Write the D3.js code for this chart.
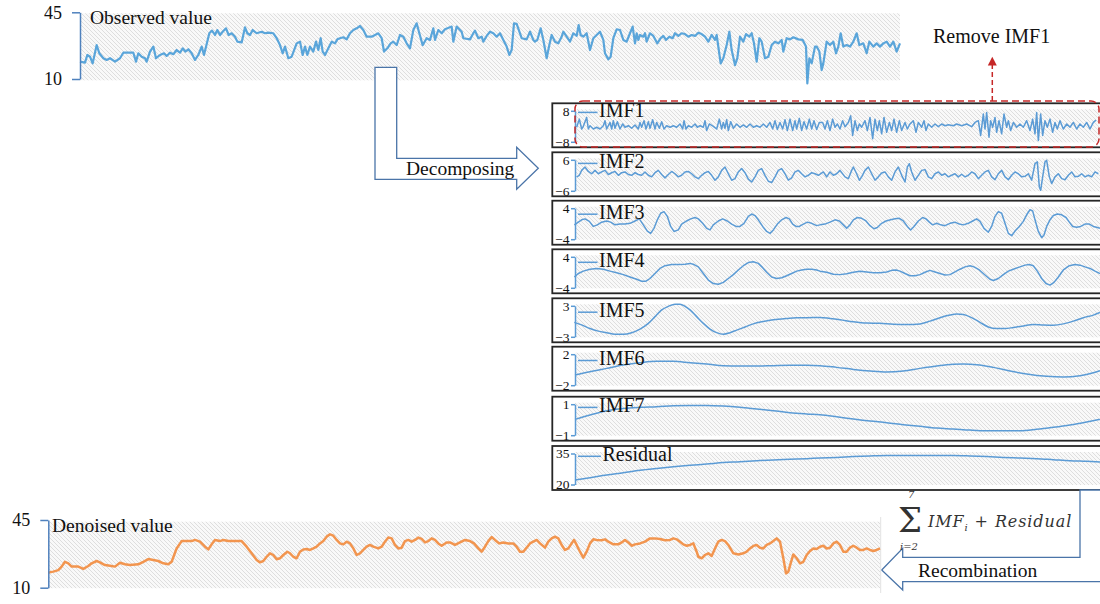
<!DOCTYPE html>
<html><head><meta charset="utf-8">
<script src="https://cdn.jsdelivr.net/npm/d3@7"></script>
<style>body{margin:0;background:#fff} svg{display:block}</style>
</head><body>
<svg id="c" width="1100" height="604"></svg>
<script>
// ---- data: [sample time, value] ----
const observed = [[240,19.1],[255,18.6],[262,22.6],[270,21.7],[278,18.2],[290,27.8],[298,23.5],[310,20.9],[320,20.0],[330,20.9],[345,19.1],[360,20.9],[370,23.8],[385,23.8],[400,23.8],[408,19.1],[415,23.5],[425,21.7],[435,20.9],[440,19.1],[450,24.4],[460,27.0],[468,20.9],[480,22.6],[492,23.5],[500,22.1],[510,23.8],[520,23.0],[530,25.2],[540,23.8],[548,26.1],[556,24.4],[565,25.6],[575,23.5],[585,20.0],[595,22.6],[605,27.0],[612,22.6],[628,34.0],[636,35.4],[645,33.1],[652,35.7],[660,33.1],[668,34.8],[678,36.6],[686,33.1],[695,34.0],[705,32.2],[712,29.6],[725,29.2],[735,37.1],[742,34.0],[750,33.1],[758,35.7],[770,34.0],[785,34.8],[795,34.0],[805,34.3],[820,34.0],[830,31.4],[840,27.8],[848,23.5],[855,27.0],[865,20.9],[875,21.7],[890,28.7],[900,29.6],[908,22.6],[915,27.0],[922,22.6],[930,27.0],[940,24.4],[948,29.6],[955,25.2],[962,31.4],[968,24.4],[975,22.6],[985,26.1],[995,29.6],[1005,28.7],[1012,30.8],[1020,31.4],[1030,31.9],[1040,30.8],[1050,34.0],[1060,35.7],[1070,36.6],[1080,37.8],[1090,35.7],[1100,32.2],[1115,32.2],[1125,33.1],[1135,34.0],[1145,31.4],[1152,24.4],[1162,26.1],[1172,28.7],[1180,29.6],[1190,27.8],[1200,33.1],[1210,32.2],[1220,28.7],[1230,26.1],[1240,35.7],[1250,39.2],[1258,34.0],[1268,27.8],[1280,31.4],[1290,30.5],[1300,36.6],[1305,30.5],[1315,35.7],[1325,34.0],[1335,36.1],[1355,37.5],[1360,29.6],[1370,37.5],[1385,34.8],[1390,31.4],[1410,30.8],[1420,34.0],[1425,35.4],[1435,31.4],[1445,32.2],[1450,29.6],[1460,32.6],[1470,34.8],[1480,34.0],[1490,32.2],[1500,34.0],[1510,30.5],[1520,27.0],[1528,22.6],[1535,25.2],[1542,39.2],[1550,38.9],[1560,34.0],[1565,31.4],[1580,30.8],[1590,34.8],[1600,30.5],[1605,29.6],[1612,30.5],[1622,36.6],[1630,30.5],[1640,20.9],[1648,27.8],[1655,33.1],[1665,29.6],[1675,28.7],[1685,32.2],[1690,34.8],[1700,32.2],[1710,29.6],[1720,34.0],[1730,32.6],[1736,38.3],[1742,33.1],[1750,32.2],[1760,34.0],[1770,25.2],[1780,31.4],[1790,33.1],[1800,34.8],[1810,30.5],[1815,23.5],[1825,20.3],[1832,21.7],[1840,31.4],[1850,36.1],[1860,35.7],[1870,30.5],[1880,29.6],[1890,34.0],[1898,37.5],[1905,28.7],[1910,34.0],[1915,30.5],[1920,33.1],[1930,32.2],[1935,34.0],[1940,29.6],[1950,34.0],[1960,32.6],[1972,28.7],[1982,31.4],[1990,32.6],[1998,30.5],[2008,32.2],[2018,31.4],[2025,34.0],[2035,32.6],[2045,34.0],[2055,33.6],[2065,32.2],[2075,33.1],[2085,32.6],[2095,34.3],[2105,33.6],[2115,32.2],[2125,29.6],[2135,33.1],[2145,30.5],[2150,33.1],[2162,18.2],[2170,20.9],[2180,27.8],[2188,34.8],[2195,25.2],[2205,17.3],[2212,20.9],[2220,32.2],[2230,29.6],[2238,33.6],[2248,32.2],[2255,34.0],[2262,28.7],[2270,19.1],[2278,31.4],[2285,29.6],[2295,20.9],[2305,21.7],[2315,27.8],[2325,29.6],[2335,28.7],[2345,30.5],[2350,24.4],[2360,31.4],[2370,30.8],[2380,31.9],[2395,30.8],[2408,30.5],[2418,27.0],[2422,7.7],[2428,20.9],[2435,18.2],[2445,27.0],[2450,27.0],[2458,24.4],[2465,14.7],[2470,18.2],[2480,29.6],[2490,27.8],[2500,29.6],[2508,23.5],[2515,27.0],[2522,34.0],[2530,27.0],[2540,27.8],[2550,27.0],[2560,29.6],[2570,34.0],[2578,27.8],[2590,28.7],[2600,23.5],[2608,29.6],[2620,27.0],[2630,28.7],[2640,27.0],[2650,28.7],[2660,29.6],[2670,27.0],[2680,29.6],[2690,24.4],[2700,28.7]];

const denoised = [[145,17.8],[160,18.3],[175,19.1],[185,20.9],[195,23.4],[205,22.6],[215,20.9],[235,20.9],[250,19.7],[265,21.2],[275,22.6],[290,23.8],[300,23.1],[315,21.7],[330,21.4],[345,20.9],[360,22.9],[375,22.1],[390,21.7],[415,22.1],[430,23.4],[445,24.8],[460,24.3],[475,23.8],[490,22.6],[505,22.1],[515,23.4],[530,30.3],[545,34.1],[560,34.1],[575,34.1],[585,34.7],[600,33.8],[615,31.2],[625,29.8],[635,32.4],[645,34.7],[660,34.1],[670,34.7],[685,34.1],[700,34.1],[725,34.1],[740,31.2],[755,27.8],[770,24.3],[780,23.1],[790,23.8],[800,26.0],[810,27.8],[820,26.9],[830,24.7],[840,25.2],[850,26.9],[862,28.6],[870,27.8],[880,26.0],[890,25.2],[900,28.6],[910,29.8],[920,30.0],[930,29.5],[940,30.3],[950,31.2],[960,32.9],[970,34.1],[980,36.4],[990,37.6],[1000,36.9],[1010,34.7],[1020,32.9],[1030,32.4],[1040,33.8],[1050,32.9],[1060,30.3],[1070,26.9],[1080,27.8],[1090,29.5],[1100,31.2],[1110,32.1],[1120,31.2],[1135,30.3],[1145,31.2],[1155,33.8],[1165,36.0],[1175,35.5],[1185,32.1],[1195,30.3],[1205,30.7],[1215,34.1],[1225,34.7],[1235,33.8],[1245,34.7],[1255,35.9],[1265,35.2],[1275,33.4],[1285,34.1],[1295,35.5],[1305,34.7],[1315,32.9],[1325,31.7],[1340,33.4],[1350,33.4],[1365,32.1],[1380,33.4],[1395,34.7],[1410,34.1],[1422,32.9],[1435,30.3],[1445,28.6],[1455,31.2],[1465,34.1],[1475,36.2],[1485,34.7],[1498,32.9],[1510,33.4],[1525,32.9],[1540,32.9],[1550,31.2],[1560,28.6],[1570,28.6],[1580,30.7],[1590,32.9],[1600,33.8],[1610,34.7],[1620,32.9],[1635,30.7],[1645,33.8],[1655,35.5],[1665,36.4],[1675,35.5],[1685,32.1],[1695,29.5],[1705,30.3],[1715,32.9],[1722,34.7],[1730,32.1],[1740,28.6],[1750,25.5],[1760,28.6],[1770,32.9],[1780,35.0],[1790,34.7],[1805,34.5],[1815,35.0],[1825,33.8],[1840,32.4],[1855,32.4],[1865,33.4],[1875,34.7],[1885,33.4],[1895,31.7],[1905,32.4],[1920,32.9],[1935,33.8],[1950,35.5],[1965,35.5],[1980,35.2],[1995,34.5],[2010,34.7],[2020,35.5],[2030,35.0],[2040,33.8],[2050,32.4],[2060,31.7],[2070,32.1],[2080,32.9],[2090,28.6],[2095,26.0],[2105,25.2],[2115,26.9],[2125,27.8],[2135,26.4],[2145,30.3],[2155,33.8],[2165,34.7],[2175,34.1],[2185,32.1],[2200,27.8],[2215,27.2],[2230,27.8],[2240,28.6],[2250,30.3],[2260,31.6],[2270,32.1],[2280,30.7],[2290,30.3],[2300,32.1],[2310,32.9],[2320,34.1],[2330,35.5],[2340,33.8],[2350,25.2],[2358,17.4],[2365,18.3],[2372,22.6],[2380,27.2],[2390,25.2],[2400,22.6],[2410,23.4],[2420,26.9],[2430,29.0],[2440,30.3],[2450,30.0],[2460,31.2],[2470,31.7],[2480,30.3],[2490,30.7],[2500,32.9],[2510,33.8],[2520,32.1],[2530,28.6],[2540,28.6],[2550,30.7],[2560,31.7],[2570,30.7],[2580,29.5],[2590,29.5],[2600,30.3],[2610,29.5],[2620,29.0],[2630,29.5],[2640,30.3]];

const imf1 = [[110,-0.5],[118,3.7],[125,-1.4],[130,0],[140,4.6],[145,-1.4],[150,0.3],[160,-1.4],[170,-0.5],[180,-1.4],[190,0.3],[195,2.9],[200,-1.4],[210,2.0],[215,-1.4],[220,2.9],[225,-1.0],[232,2.4],[240,-1.4],[248,1.2],[255,-0.5],[265,0.3],[275,-1.0],[285,0.7],[295,-1.4],[300,2.0],[305,-0.5],[312,2.9],[318,-1.4],[325,2.4],[330,-1.0],[338,3.4],[345,-1.4],[350,2.0],[358,-1.0],[365,2.4],[372,-1.4],[380,0.3],[390,-0.5],[400,0.3],[410,-0.5],[420,1.2],[428,-1.4],[432,2.9],[438,-1.4],[445,0.3],[455,-0.5],[465,1.2],[472,-0.5],[480,0.3],[490,-0.5],[495,2.9],[500,-2.2],[508,1.2],[520,0],[530,-1.4],[538,3.7],[545,-1.4],[550,2.0],[555,-1.0],[560,3.4],[565,-2.2],[572,2.4],[580,-1.0],[590,1.2],[600,-0.5],[610,0.7],[620,-0.5],[630,1.2],[640,-0.5],[650,0.3],[660,-0.5],[670,1.2],[680,-0.5],[690,2.0],[698,-1.4],[705,2.9],[712,-1.7],[720,2.0],[728,-1.4],[735,3.4],[742,-2.2],[750,3.7],[758,-2.2],[765,2.9],[770,-1.4],[778,4.1],[785,-2.2],[792,2.4],[800,-1.4],[808,3.7],[815,-1.4],[822,2.9],[830,-1.7],[838,2.0],[848,2.0],[855,-1.4],[862,2.9],[870,-2.2],[878,3.7],[885,-0.5],[892,1.2],[900,-1.4],[908,2.9],[915,-0.2],[925,2.0],[932,5.4],[938,-4.7],[945,2.9],[952,-2.2],[958,1.2],[965,-0.5],[975,2.9],[982,-2.2],[990,4.6],[998,-6.4],[1005,3.7],[1012,-2.2],[1018,2.9],[1025,-3.9],[1032,4.6],[1040,-3.1],[1048,2.0],[1055,-2.2],[1062,3.7],[1070,-3.1],[1078,2.9],[1085,-2.2],[1095,2.0],[1102,-1.4],[1110,1.2],[1120,2.9],[1128,-3.1],[1135,2.0],[1145,-0.5],[1152,2.9],[1158,-2.2],[1165,1.2],[1175,-0.5],[1185,1.2],[1195,-0.2],[1205,1.2],[1215,0.3],[1225,0.8],[1240,0.3],[1250,1.2],[1265,0.3],[1280,1.2],[1295,-0.2],[1305,2.0],[1315,2.9],[1322,-4.7],[1330,6.3],[1335,-1.4],[1340,7.1],[1347,-5.6],[1352,2.9],[1358,-0.5],[1365,4.6],[1370,-3.1],[1377,2.9],[1385,-3.9],[1392,6.3],[1400,-0.5],[1405,2.9],[1412,-2.2],[1420,2.0],[1430,-0.5],[1440,1.2],[1450,-0.5],[1460,2.9],[1470,-2.2],[1478,3.7],[1485,-3.9],[1490,7.1],[1495,-7.3],[1502,6.3],[1508,-4.7],[1515,2.9],[1522,-0.5],[1530,3.7],[1538,-3.1],[1545,2.0],[1552,-1.4],[1560,2.9],[1570,-1.4],[1580,1.2],[1590,-0.5],[1600,2.0],[1610,-1.4],[1620,1.2],[1630,-0.5],[1640,2.0],[1650,-1.4],[1660,2.0],[1668,3.2]];

const imf2 = [[110,-0.6],[118,0],[125,1.9],[135,3.2],[145,1.5],[155,0.6],[165,1.9],[175,0.6],[185,1.3],[195,1.9],[205,0.3],[215,1.0],[225,1.5],[235,0],[245,1.0],[255,1.3],[265,0.3],[275,0],[285,1.0],[295,0.3],[305,0],[315,1.3],[325,0],[335,-0.6],[345,1.0],[355,1.9],[365,0.3],[375,-1.0],[385,0.3],[395,1.5],[405,0.6],[415,-0.6],[425,0],[435,1.3],[445,1.5],[455,0.6],[465,-0.6],[475,-1.3],[485,0],[495,1.0],[505,1.5],[515,0],[525,-1.9],[535,-0.6],[545,1.9],[555,3.2],[565,0.6],[575,-1.9],[585,-1.3],[595,1.3],[605,2.6],[615,1.0],[625,-1.5],[635,-2.6],[645,-0.6],[655,1.9],[665,2.6],[675,0],[685,-2.3],[695,-2.8],[705,-0.6],[715,1.9],[725,2.6],[735,0.6],[745,-1.9],[755,-1.0],[765,1.3],[775,1.9],[785,0.6],[795,-0.6],[805,0],[815,1.0],[825,0.6],[835,0],[850,1.3],[860,-0.6],[870,1.3],[880,0],[890,0.6],[900,1.9],[915,-0.6],[925,-1.3],[935,1.9],[940,3.2],[950,0.6],[958,-1.9],[965,-0.6],[975,1.9],[985,3.2],[995,0.6],[1005,-1.9],[1015,-0.6],[1025,0.9],[1035,1.3],[1045,-0.6],[1055,-1.9],[1065,1.3],[1075,3.2],[1085,0],[1095,-2.6],[1102,3.2],[1108,4.5],[1115,1.3],[1125,-1.9],[1135,0],[1145,1.9],[1155,2.2],[1165,-0.6],[1175,-1.3],[1185,0.6],[1195,1.3],[1205,0],[1215,0.6],[1225,-0.6],[1235,0],[1245,0.6],[1255,-0.6],[1265,0.4],[1275,-0.6],[1285,0],[1295,1.3],[1305,0.6],[1315,-1.3],[1325,0],[1335,1.3],[1345,1.9],[1355,-0.6],[1365,-1.7],[1375,0.6],[1385,1.9],[1395,-0.6],[1405,-1.7],[1415,0],[1425,1.3],[1435,0.6],[1445,-0.6],[1455,-0.4],[1465,0.6],[1475,-1.9],[1485,4.5],[1492,5.2],[1498,-4.5],[1502,-5.8],[1508,-0.6],[1515,5.2],[1520,5.8],[1528,-0.6],[1535,-3.2],[1545,-0.6],[1555,0.6],[1565,-1.3],[1575,-1.7],[1585,0],[1595,1.3],[1605,-0.6],[1615,-0.4],[1625,0.6],[1635,-0.6],[1645,0],[1655,-0.6],[1665,1.3],[1675,0.6]];

const imf3 = [[103,-0.3],[115,0.4],[125,1.0],[135,1.25],[148,0.6],[160,-0.7],[172,-0.3],[185,0.4],[200,0.7],[212,0.4],[225,-0.3],[240,-0.1],[255,-0.1],[270,0.1],[285,0.7],[298,1.25],[310,-0.3],[322,-1.9],[332,-2.5],[342,-1.2],[352,1.0],[362,2.7],[372,3.1],[382,1.9],[392,-0.7],[402,-2.0],[415,-1.6],[425,-0.1],[440,0.7],[452,1.25],[465,1.6],[475,1.25],[488,0.1],[500,-1.2],[510,-1.6],[520,-0.3],[535,0.7],[548,1.25],[562,0.7],[575,-0.1],[588,-0.7],[600,-0.7],[612,0.1],[625,1.9],[635,2.5],[645,2.1],[655,1.0],[668,-0.7],[680,-2.0],[690,-2.5],[700,-1.6],[712,-0.1],[725,1.0],[738,1.6],[748,1.25],[758,-0.1],[768,-0.7],[778,-0.7],[790,-0.1],[802,0.4],[815,0.1],[830,-0.5],[840,-0.3],[855,-0.1],[870,0.4],[885,1.0],[898,0.7],[910,-0.3],[920,-1.2],[930,-0.3],[940,1.0],[952,1.6],[965,1.4],[978,0.7],[990,-0.5],[1002,-1.3],[1012,-1.0],[1025,0.1],[1038,0.7],[1052,1.0],[1065,1.25],[1078,1.4],[1090,0.7],[1102,-0.7],[1112,-1.6],[1122,-0.7],[1135,0.7],[1148,1.6],[1158,1.25],[1168,0.4],[1178,-0.3],[1190,0.1],[1202,-0.3],[1215,-0.5],[1230,0.1],[1245,0.4],[1258,-0.1],[1270,-0.3],[1285,0.1],[1298,0.7],[1310,1.25],[1320,0.6],[1332,-1.2],[1345,-2.2],[1355,-0.7],[1365,1.9],[1375,3.1],[1385,2.7],[1395,0.1],[1405,-2.5],[1415,-3.1],[1425,-1.9],[1438,-0.7],[1450,0.6],[1460,2.3],[1470,3.6],[1478,3.3],[1485,1.0],[1495,-2.0],[1505,-3.6],[1512,-2.9],[1520,-0.7],[1530,1.0],[1540,2.1],[1552,2.5],[1565,2.3],[1578,1.6],[1588,0.4],[1598,-0.7],[1610,-0.9],[1622,-0.7],[1635,-0.1],[1648,-0.1],[1660,-0.7],[1672,-1.0],[1680,-1.2]];

const imf4 = [[103,-1.2],[115,-0.3],[130,0.3],[150,0.8],[170,1.0],[190,0.8],[210,0.3],[230,-0.1],[250,-0.6],[270,-1.2],[290,-1.8],[305,-2.3],[318,-2.3],[330,-1.6],[345,-0.3],[360,1.0],[375,1.7],[395,2.0],[415,2.0],[435,2.1],[450,2.3],[462,2.0],[475,1.4],[490,-0.3],[505,-2.0],[520,-2.9],[535,-3.1],[550,-2.6],[565,-1.6],[580,-0.6],[595,0.6],[610,1.7],[625,2.5],[640,2.7],[655,2.3],[668,1.2],[680,0],[695,-1.2],[710,-1.6],[725,-1.4],[740,-0.9],[755,-0.3],[770,0.3],[785,0.6],[800,0.8],[815,0.8],[830,0.6],[840,0.3],[860,0],[880,-0.5],[900,-0.6],[920,-0.4],[940,0],[960,0.3],[980,0.1],[1000,-0.1],[1020,-0.1],[1040,0.1],[1055,0.5],[1068,0.6],[1080,0.3],[1095,-0.3],[1110,-0.9],[1125,-0.9],[1140,-0.6],[1155,0],[1170,0.5],[1185,0.1],[1200,-0.3],[1215,-0.7],[1230,-0.6],[1245,0.1],[1260,0.8],[1275,1.4],[1290,1.7],[1302,1.4],[1318,0.6],[1335,-0.7],[1350,-1.8],[1360,-2.1],[1375,-1.6],[1390,-0.6],[1405,0.3],[1420,0.8],[1440,1.4],[1455,1.85],[1468,2.0],[1480,1.7],[1492,0.3],[1505,-1.6],[1518,-2.9],[1530,-3.3],[1542,-2.6],[1555,-1.2],[1570,0.6],[1588,1.7],[1605,2.0],[1620,1.85],[1635,1.4],[1650,1.0],[1665,0.3],[1680,-0.3]];

const imf5 = [[103,-0.2],[125,-0.7],[150,-1.4],[175,-1.9],[200,-2.2],[225,-2.5],[250,-2.5],[275,-2.2],[300,-1.5],[325,-0.4],[345,0.9],[365,2.2],[385,2.9],[405,3.3],[420,3.3],[435,2.9],[450,2.2],[470,0.9],[490,-0.4],[510,-1.5],[530,-2.2],[550,-2.5],[570,-2.2],[590,-1.7],[615,-1.1],[640,-0.5],[665,-0.1],[690,0.2],[715,0.4],[740,0.55],[770,0.7],[800,0.7],[840,0.75],[870,0.55],[900,0.3],[940,-0.1],[980,-0.35],[1020,-0.4],[1060,-0.55],[1100,-0.6],[1140,-0.5],[1170,0.03],[1200,0.7],[1230,1.2],[1250,1.4],[1270,1.3],[1295,0.7],[1320,-0.2],[1345,-1.1],[1370,-1.4],[1395,-1.4],[1420,-1.2],[1450,-0.9],[1480,-0.6],[1510,-0.7],[1540,-0.75],[1570,-0.5],[1600,0.03],[1630,0.7],[1660,1.2],[1680,1.7]];

const imf6 = [[105,-0.69],[150,-0.26],[200,0.17],[250,0.6],[300,0.9],[350,1.08],[400,1.08],[450,0.9],[500,0.73],[550,0.52],[600,0.47],[650,0.47],[700,0.52],[750,0.56],[800,0.56],[840,0.52],[890,0.3],[940,0.04],[990,-0.17],[1040,-0.3],[1090,-0.17],[1140,0.17],[1190,0.47],[1240,0.69],[1270,0.73],[1310,0.65],[1360,0.3],[1410,-0.17],[1460,-0.56],[1520,-0.86],[1570,-0.95],[1620,-0.77],[1660,-0.39],[1680,-0.13]];

const imf7 = [[105,0.02],[150,0.3],[200,0.58],[250,0.73],[300,0.8],[350,0.84],[400,0.9],[450,0.92],[500,0.92],[550,0.88],[600,0.8],[650,0.69],[700,0.58],[750,0.45],[800,0.37],[840,0.32],[890,0.19],[940,0.04],[990,-0.09],[1040,-0.19],[1090,-0.32],[1140,-0.43],[1190,-0.54],[1240,-0.6],[1290,-0.67],[1340,-0.71],[1390,-0.71],[1440,-0.71],[1490,-0.62],[1540,-0.49],[1590,-0.34],[1640,-0.15],[1680,0.02]];

const residual = [[105,22.2],[150,23.3],[200,24.6],[250,25.7],[300,26.9],[350,27.8],[400,28.6],[450,29.3],[500,29.9],[550,30.6],[600,31.0],[650,31.5],[700,31.9],[750,32.2],[800,32.5],[840,32.8],[890,33.1],[940,33.5],[990,33.8],[1040,34.0],[1090,34.0],[1140,34.0],[1190,34.0],[1240,34.0],[1290,33.8],[1340,33.5],[1390,33.1],[1440,32.8],[1490,32.5],[1540,32.0],[1590,31.5],[1640,31.2],[1680,30.9]];

const panelNames  = ["IMF1","IMF2","IMF3","IMF4","IMF5","IMF6","IMF7","Residual"];
const panelSeries = [imf1, imf2, imf3, imf4, imf5, imf6, imf7, residual];
const panelRanges = [[-8,8],[-6,6],[-4,4],[-4,4],[-3,3],[-2,2],[-1,1],[20,35]];
const valueTicks  = [10, 45];

// ---- layout / style ----
const SERIF = "'Liberation Serif','Times New Roman',serif";
const MATH = "'DejaVu Serif',serif";
const panelTops = [103.3,152.3,200.7,249.3,298.3,346.7,396.7,446];
const labelBase = [13.6,15.6,18,17.5,18.4,18.3,15.2,14.8];
const AX = "#4f81bd", IMFC = "#5b9bd5";
const intFmt = d3.format("d");

const svg = d3.select("#c");
const defs = svg.append("defs");
const pat = defs.append("pattern").attr("id","hatch").attr("patternUnits","userSpaceOnUse")
  .attr("width",4).attr("height",4);
pat.append("rect").attr("width",4).attr("height",4).attr("fill","#f9f9f9");
pat.append("path").attr("d","M-1,-1L5,5M3,-1L5,1M-1,3L1,5").attr("stroke","#dedede").attr("stroke-width",1);

function styleAxis(g, color, fs){
  g.attr("font-family", SERIF);
  g.select(".domain").attr("stroke", color).attr("stroke-width",1.5);
  g.selectAll(".tick line").attr("stroke", color).attr("stroke-width",1.5);
  g.selectAll(".tick text").attr("fill","#111").attr("font-size",fs);
}

// ---- Observed panel ----
const xObs = d3.scaleLinear().domain([240,2700]).range([80,900]);
const yObs = d3.scaleLinear().domain([10,45]).range([79,12.3]);
svg.append("rect").attr("x",80).attr("y",13.3).attr("width",820).attr("height",67).attr("fill","url(#hatch)");
svg.append("path").datum(observed)
  .attr("d", d3.line().x(d=>xObs(d[0])).y(d=>yObs(d[1])))
  .attr("fill","none").attr("stroke","#5aa5da").attr("stroke-width",2.2).attr("stroke-linejoin","round");
svg.append("g").attr("transform","translate(80,0)")
  .call(d3.axisLeft(yObs).tickValues(valueTicks).tickFormat(intFmt).tickSize(8).tickSizeOuter(0).tickPadding(10))
  .call(g=>styleAxis(g, AX, 18));
svg.append("text").attr("x",90).attr("y",24).attr("font-family",SERIF).attr("font-size",19.5)
  .attr("fill","#111").text("Observed value");

// ---- Decomposing arrow ----
svg.append("path")
  .attr("d","M375,67.3H396.7V158.3H516.7V147.3L538.3,168.3L516.7,189.3V179.3H375Z")
  .attr("fill","#fff").attr("stroke","#4a74a8").attr("stroke-width",1.3);
svg.append("text").attr("x",406).attr("y",175).attr("font-family",SERIF).attr("font-size",19.5)
  .attr("fill","#111").text("Decomposing");

// ---- IMF panels ----
const xImf = d3.scaleLinear().domain([105,1680]).range([575,1100]);
panelNames.forEach((name,i)=>{
  const top = panelTops[i];
  const y = d3.scaleLinear().domain(panelRanges[i]).range([top+38.5, top+7.5]);
  const g = svg.append("g");
  g.append("rect").attr("x",552.3).attr("y",top).attr("width",570).attr("height",44)
    .attr("fill","#fff").attr("stroke","#262626").attr("stroke-width",1.8);
  g.append("rect").attr("x",575).attr("y",top+6).attr("width",540).attr("height",33).attr("fill","url(#hatch)");
  g.append("path").datum(panelSeries[i])
    .attr("d", d3.line().curve(i>=4 ? d3.curveMonotoneX : d3.curveLinear).x(d=>xImf(d[0])).y(d=>y(d[1])))
    .attr("fill","none").attr("stroke",IMFC).attr("stroke-width",1.5).attr("stroke-linejoin","round");
  g.append("g").attr("transform","translate(575,0)")
    .call(d3.axisLeft(y).tickValues(panelRanges[i]).tickFormat(intFmt).tickSize(4).tickSizeOuter(0).tickPadding(1.5))
    .call(a=>styleAxis(a, IMFC, 13.5));
  const lb = top + labelBase[i];
  const tx = name === "Residual" ? 602.5 : 599;
  g.append("line").attr("x1",578).attr("x2",tx-1.5).attr("y1",lb-4.5).attr("y2",lb-4.5)
    .attr("stroke",IMFC).attr("stroke-width",1.5);
  g.append("text").attr("x",tx).attr("y",lb).attr("font-family",SERIF).attr("font-size",20)
    .attr("fill","#111").text(name);
});

// ---- Remove IMF1 annotation ----
svg.append("rect").attr("x",575).attr("y",101).attr("width",524).attr("height",46).attr("rx",8)
  .attr("fill","none").attr("stroke","#c62828").attr("stroke-width",1.5).attr("stroke-dasharray","7,4");
svg.append("line").attr("x1",992.3).attr("x2",992.3).attr("y1",101).attr("y2",65)
  .attr("stroke","#c62828").attr("stroke-width",1.5).attr("stroke-dasharray","5,3");
svg.append("path").attr("d","M992.3,56.7L996.8,65.5H987.8Z").attr("fill","#c62828");
svg.append("text").attr("x",933).attr("y",43.3).attr("font-family",SERIF).attr("font-size",20)
  .attr("fill","#111").text("Remove IMF1");

// ---- Recombination arrow ----
svg.append("path")
  .attr("d","M1110,490H1080V557.3H902.7V548.3L881.7,570L902.7,590V581.7H1110")
  .attr("fill","#fff").attr("stroke","#4a74a8").attr("stroke-width",1.3);
svg.append("text").attr("x",918).attr("y",577).attr("font-family",SERIF).attr("font-size",19.5)
  .attr("fill","#111").text("Recombination");

// formula: summation sign with limits, then the summand
const fg = svg.append("g").attr("fill","#333");
fg.append("text").attr("x",898).attr("y",532).attr("font-family",MATH).attr("font-size",34).text("Σ");
fg.append("text").attr("x",908).attr("y",498).attr("font-family",MATH).attr("font-size",10).attr("font-style","italic").text("7");
fg.append("text").attr("x",900).attr("y",549.8).attr("font-family",MATH).attr("font-size",10).attr("font-style","italic").text("i=2");
const ft = fg.append("text").attr("x",928).attr("y",527).attr("font-family",MATH)
  .attr("font-style","italic").attr("font-size",16).attr("letter-spacing",0.9);
ft.append("tspan").text("IMF");
ft.append("tspan").attr("font-size",10).attr("dy",4).text("i");
ft.append("tspan").attr("dy",-4).text(" + Residual");

// ---- Denoised panel ----
const xDen = d3.scaleLinear().domain([145,2640]).range([48.3,880]);
const yDen = d3.scaleLinear().domain([10,45]).range([587.7,520]);
svg.append("rect").attr("x",48).attr("y",521.7).attr("width",832).attr("height",66.5).attr("fill","url(#hatch)");
svg.append("line").attr("x1",880.7).attr("x2",880.7).attr("y1",517).attr("y2",593).attr("stroke","#e2e2e2").attr("stroke-width",1);
svg.append("path").datum(denoised)
  .attr("d", d3.line().x(d=>xDen(d[0])).y(d=>yDen(d[1])))
  .attr("fill","none").attr("stroke","#f2954f").attr("stroke-width",2.5).attr("stroke-linejoin","round");
svg.append("g").attr("transform","translate(48.3,0)")
  .call(d3.axisLeft(yDen).tickValues(valueTicks).tickFormat(intFmt).tickSize(8).tickSizeOuter(0).tickPadding(10))
  .call(g=>styleAxis(g, AX, 18));
svg.append("text").attr("x",52).attr("y",531.7).attr("font-family",SERIF).attr("font-size",19.5)
  .attr("fill","#111").text("Denoised value");
</script>
</body></html>
